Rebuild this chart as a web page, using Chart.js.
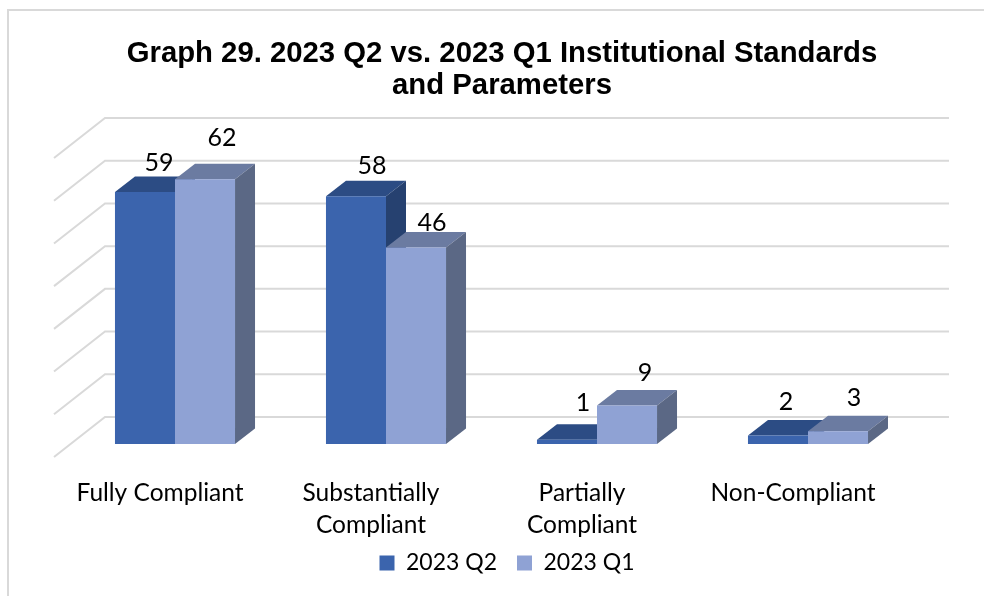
<!DOCTYPE html>
<html>
<head>
<meta charset="utf-8">
<title>Graph 29</title>
<script src="https://cdn.jsdelivr.net/npm/chart.js@4"></script>
<style>
    html, body { margin: 0; padding: 0; background: #fff; width: 984px; height: 596px; overflow: hidden; }
    #frame { position: absolute; left: 7px; top: 9px; width: 988px; height: 600px; border-left: 2px solid #d9d9d9; border-top: 2px solid #d9d9d9; box-sizing: border-box; }
    #chart { position: absolute; left: 8px; top: 10px; }
</style>
</head>
<body>
<div id="frame"></div>
<canvas id="chart" width="988" height="596"></canvas>
<script>
const titleLines = ['Graph 29. 2023 Q2 vs. 2023 Q1 Institutional Standards', 'and Parameters'];
const categories = [['Fully Compliant'], ['Substantially', 'Compliant'], ['Partially', 'Compliant'], ['Non-Compliant']];
const seriesNames = ['2023 Q2', '2023 Q1'];
const q2Values = [59, 58, 1, 2];
const q1Values = [62, 46, 9, 3];
const yTickValues = [0, 10, 20, 30, 40, 50, 60, 70];

// Faces of the fake 3D columns
const frontColors = ['#3b64ad', '#8fa2d4'];
const topColors = ['#2c4c84', '#6b7ba1'];
const sideColors = ['#264170', '#5b6885'];

// Excel put these labels by hand, so they sit at uneven offsets from the bars
const labelNudges = [
    [[14, -29], [16, -30], [16, -37], [8, -34]],
    [[17, -41], [16, -25], [18, -33], [16, -33]]
];

const barDepth = { x: 20, y: 15.5 };
const wall = { backX: 35.5, backY: -27, frontX: -15.5, frontY: 13 };

function face(ctx, points, color) {
    ctx.fillStyle = color;
    ctx.beginPath();
    points.forEach((p, i) => i ? ctx.lineTo(p[0], p[1]) : ctx.moveTo(p[0], p[1]));
    ctx.closePath();
    ctx.fill();
}

const bars3d = {
    id: 'bars3d',
    afterLayout(chart) {
        // title and legend are not centred on the plot in the original
        chart.titleBlock.left += 10.5;
        chart.titleBlock.right += 10.5;
        chart.legend.left += 15.5;
        chart.legend.right += 15.5;
        chart.legend.top -= 21.5;
        chart.legend.bottom -= 21.5;
    },
    beforeDatasetsDraw(chart) {
        const ctx = chart.ctx;
        const xs = chart.scales.x;
        const ys = chart.scales.y;

        // back wall and left wall lines
        ctx.save();
        ctx.strokeStyle = '#d9d9d9';
        ctx.lineWidth = 2;
        ys.getTicks().forEach(t => {
            const y = ys.getPixelForValue(t.value);
            ctx.beginPath();
            ctx.moveTo(xs.left + wall.frontX, y + wall.frontY);
            ctx.lineTo(xs.left + wall.backX, y + wall.backY);
            ctx.lineTo(xs.right + wall.backX, y + wall.backY);
            ctx.stroke();
        });

        // tops and sides, one series after the other so Q1 covers Q2
        chart.data.datasets.forEach((ds, d) => {
            chart.getDatasetMeta(d).data.forEach(bar => {
                const l = bar.x - bar.width / 2;
                const r = bar.x + bar.width / 2;
                const dx = barDepth.x, dy = barDepth.y;
                face(ctx, [[l, bar.y], [l + dx, bar.y - dy], [r + dx, bar.y - dy], [r, bar.y]], topColors[d]);
                face(ctx, [[r, bar.y], [r + dx, bar.y - dy], [r + dx, bar.base - dy], [r, bar.base]], sideColors[d]);
            });
        });
        ctx.restore();
    },
    afterDatasetsDraw(chart) {
        const ctx = chart.ctx;
        ctx.save();
        ctx.font = '25px Lato';
        ctx.fillStyle = '#000';
        ctx.textAlign = 'center';
        ctx.textBaseline = 'middle';
        chart.data.datasets.forEach((ds, d) => {
            chart.getDatasetMeta(d).data.forEach((bar, i) => {
                const nudge = labelNudges[d][i];
                ctx.fillText(ds.data[i], bar.x + nudge[0], bar.y + nudge[1]);
            });
        });
        ctx.restore();
    }
};

new Chart(document.getElementById('chart'), {
    type: 'bar',
    data: {
        labels: categories,
        datasets: [
            { label: seriesNames[0], data: q2Values, backgroundColor: frontColors[0] },
            { label: seriesNames[1], data: q1Values, backgroundColor: frontColors[1] }
        ]
    },
    options: {
        responsive: false,
        animation: false,
        categoryPercentage: 0.569,
        barPercentage: 1,
        layout: { padding: { left: 61.5, right: 82.5, top: 28, bottom: 0 } },
        plugins: {
            title: {
                display: true,
                text: titleLines,
                color: '#000',
                font: { family: 'Liberation Sans', size: 29.3, weight: 'bold', lineHeight: 1.092 },
                padding: { top: 0, bottom: 43 }
            },
            legend: {
                position: 'bottom',
                labels: {
                    color: '#000',
                    font: { family: 'Lato', size: 23 },
                    boxWidth: 15,
                    boxHeight: 15,
                    padding: 20
                }
            },
            tooltip: { enabled: false }
        },
        scales: {
            x: {
                grid: { display: false },
                border: { display: false },
                afterFit(scale) { scale.height = 109; },
                ticks: {
                    color: '#000',
                    font: { family: 'Lato', size: 24.5, lineHeight: 1.306 },
                    padding: 25,
                    labelOffset: -15,
                    maxRotation: 0,
                    minRotation: 0,
                    autoSkip: false
                }
            },
            y: {
                display: false,
                min: yTickValues[0],
                max: yTickValues[yTickValues.length - 1],
                ticks: { stepSize: 10 }
            }
        }
    },
    plugins: [bars3d]
});
</script>
</body>
</html>
